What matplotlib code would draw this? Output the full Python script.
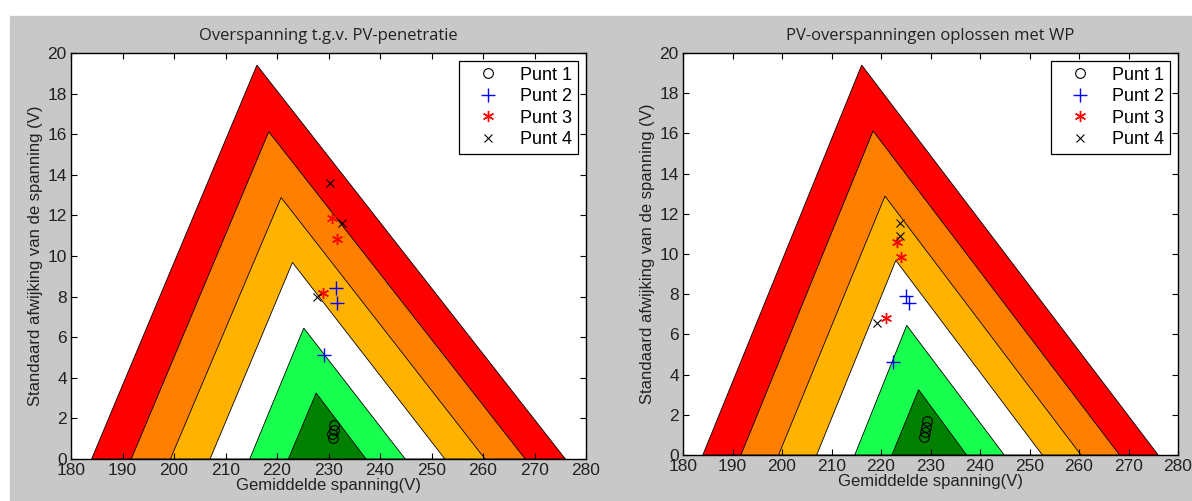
import matplotlib
matplotlib.use("Agg")
import matplotlib.pyplot as plt
from matplotlib.patches import Polygon, Rectangle

# Nested triangle zones (outer -> inner)
zone_colors = ["#ff0000", "#ff8000", "#ffb300", "#ffffff", "#19ff50", "#008000"]
base_left = [184.0, 191.7, 199.3, 207.0, 214.7, 222.2]
base_right = [276.0, 268.2, 260.4, 252.6, 244.9, 237.3]
apex_x = [216.1, 218.4, 220.8, 223.0, 225.2, 227.6]
apex_y = [19.4, 16.12, 12.88, 9.68, 6.45, 3.25]

# Left panel points
L_p1_x = [230.9, 230.7, 231.0, 231.1]
L_p1_y = [1.03, 1.25, 1.45, 1.67]
L_p2_x = [231.4, 231.7, 229.1]
L_p2_y = [8.42, 7.68, 5.12]
L_p3_x = [230.7, 231.6, 228.9]
L_p3_y = [11.87, 10.84, 8.18]
L_p4_x = [230.3, 232.6, 227.8]
L_p4_y = [13.6, 11.63, 8.0]

# Right panel points
R_p1_x = [229.3, 229.1, 228.9, 228.7]
R_p1_y = [1.69, 1.40, 1.14, 0.90]
R_p2_x = [225.0, 225.7, 222.4]
R_p2_y = [7.91, 7.56, 4.63]
R_p3_x = [223.2, 224.0, 221.0]
R_p3_y = [10.6, 9.85, 6.82]
R_p4_x = [223.8, 223.8, 219.1]
R_p4_y = [11.54, 10.9, 6.57]

titles = ["Overspanning t.g.v. PV-penetratie", "PV-overspanningen oplossen met WP"]
xlabel = "Gemiddelde spanning(V)"
ylabel = "Standaard afwijking van de spanning (V)"
legend_labels = ["Punt 1", "Punt 2", "Punt 3", "Punt 4"]
xticks = list(range(180, 281, 10))
yticks = list(range(0, 21, 2))

plt.rcParams['font.family'] = ['Liberation Sans', 'DejaVu Sans']

fig = plt.figure(figsize=(11.92, 5.01), dpi=100)
fig.patch.set_facecolor("white")
grey = "#c8c8c8"
fig.patches.append(Rectangle((10/1192, 0), (600-10)/1192, (501-16)/501,
                             transform=fig.transFigure, color=grey, zorder=-10))
fig.patches.append(Rectangle((600/1192, 0), (592)/1192, (501-16)/501,
                             transform=fig.transFigure, color=grey, zorder=-10))

positions = [
    [71/1192, 42/501, 515/1192, 406/501],
    [683/1192, 46/501, 495/1192, 402/501],
]
data = [
    (L_p1_x, L_p1_y, L_p2_x, L_p2_y, L_p3_x, L_p3_y, L_p4_x, L_p4_y),
    (R_p1_x, R_p1_y, R_p2_x, R_p2_y, R_p3_x, R_p3_y, R_p4_x, R_p4_y),
]

for i in range(2):
    ax = fig.add_axes(positions[i])
    ax.set_facecolor("white")
    for c, bl, br, ax_, ay in zip(zone_colors, base_left, base_right, apex_x, apex_y):
        ax.add_patch(Polygon([(bl, 0), (ax_, ay), (br, 0)], closed=True,
                             facecolor=c, edgecolor="black", linewidth=0.6, zorder=1))
    p1x, p1y, p2x, p2y, p3x, p3y, p4x, p4y = data[i]
    ax.plot(p1x, p1y, linestyle="none", marker="o", markersize=7, markerfacecolor="none",
            markeredgecolor="black", markeredgewidth=0.8, label=legend_labels[0], zorder=3)
    ax.plot(p2x, p2y, linestyle="none", marker="+", markersize=10, color="blue",
            markeredgewidth=1.0, label=legend_labels[1], zorder=3)
    ax.plot(p3x, p3y, linestyle="none", marker=(6, 2, 0), markersize=8, color="red",
            markeredgewidth=1.0, label=legend_labels[2], zorder=3)
    ax.plot(p4x, p4y, linestyle="none", marker="x", markersize=6, color="black",
            markeredgewidth=0.8, label=legend_labels[3], zorder=3)
    ax.set_xlim(180, 280)
    ax.set_ylim(0, 20)
    ax.set_xticks(xticks)
    ax.set_yticks(yticks)
    ax.tick_params(direction="in", top=True, right=True, length=4, labelsize=12.5,
                   colors="black", width=0.8, pad=3)
    for lab in ax.get_xticklabels() + ax.get_yticklabels():
        lab.set_color("#222222")
    for s in ax.spines.values():
        s.set_linewidth(1.0)
        s.set_zorder(5)
    ax.set_title(titles[i], fontsize=12, family=['Open Sans', 'DejaVu Sans'],
                 color="#222222", pad=9)
    ax.set_xlabel(xlabel, fontsize=12, labelpad=0, color="#222222")
    ax.set_ylabel(ylabel, fontsize=12, labelpad=3, color="#222222")
    leg = ax.legend(loc="upper right", fontsize=13, frameon=True, fancybox=False,
                    edgecolor="black", framealpha=1, borderaxespad=0.45,
                    handletextpad=0.5, labelspacing=0.25, markerfirst=True,
                    borderpad=0.3, handlelength=2.6)
    leg.get_frame().set_linewidth(0.9)

fig.savefig("out.png", dpi=100, facecolor=fig.get_facecolor())
